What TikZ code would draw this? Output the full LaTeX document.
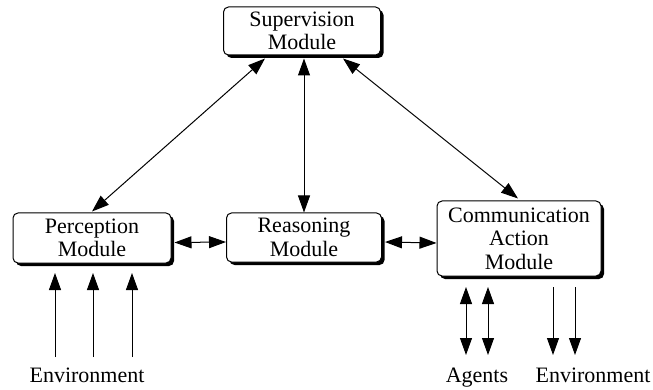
\documentclass[tikz,border=0pt]{standalone}
\usepackage{fontspec}
\setmainfont{Liberation Serif}
\usetikzlibrary{arrows.meta,shadows,calc}
\begin{document}
\begin{tikzpicture}[x=1pt,y=-1pt,
  modbox/.style={draw,line width=1pt,rounded corners=5pt,fill=white,align=center,
    font=\fontsize{22}{23.5}\selectfont,inner sep=0pt,
    general shadow={fill=black,shadow xshift=3pt,shadow yshift=-3pt}},
  lbl/.style={font=\fontsize{22}{23.5}\selectfont,inner sep=0pt,anchor=base},
  conn/.style={line width=1pt,{Triangle[length=17pt,width=12pt]}-{Triangle[length=17pt,width=12pt]}},
  uni/.style={line width=1pt,-{Triangle[length=17pt,width=12pt]}}]
\useasboundingbox (0,0) rectangle (653,390);
\node[modbox,minimum width=157pt,minimum height=48pt] (sup) at (302,31) {Supervision\\Module};
\node[modbox,minimum width=158pt,minimum height=50pt] (perc) at (92,238) {Perception\\Module};
\node[modbox,minimum width=155pt,minimum height=49pt] (reas) at (304,237.5) {Reasoning\\Module};
\node[modbox,minimum width=164pt,minimum height=75pt] (comm) at (519,238.5) {Communication\\Action\\Module};
% connections
\draw[conn] ($(sup.south)+(-37,3)$) -- ($(perc.north)+(0,-1)$);
\draw[conn] ($(sup.south)+(2,3)$) -- (reas.north);
\draw[conn] ($(sup.south)+(41,3)$) -- ($(comm.north)+(-1,-2)$);
\draw[conn] ([yshift=-4.5pt,xshift=3pt]perc.east) -- ([yshift=-4.5pt]reas.west);
\draw[conn] ([yshift=-4.5pt,xshift=3pt]reas.east) -- ([yshift=-4.5pt]comm.west);
% labels
\node[lbl] (envl) at (87,382) {Environment};
\node[lbl] (agl) at (477,382) {Agents};
\node[lbl] (envr) at (593,382) {Environment};
% environment inputs
\coordinate (pa1) at (55,357); \coordinate (pb1) at (55,273);
\coordinate (pa2) at (93,357); \coordinate (pb2) at (93,273);
\coordinate (pa3) at (132,357); \coordinate (pb3) at (132,273);
\draw[uni] (pa1) -- (pb1);
\draw[uni] (pa2) -- (pb2);
\draw[uni] (pa3) -- (pb3);
% agents
\coordinate (ca1) at (466,287); \coordinate (cb1) at (466,355);
\coordinate (ca2) at (488,287); \coordinate (cb2) at (488,355);
\draw[conn] (ca1) -- (cb1);
\draw[conn] (ca2) -- (cb2);
% environment outputs
\coordinate (ea1) at (553,287); \coordinate (eb1) at (553,355);
\coordinate (ea2) at (575,287); \coordinate (eb2) at (575,355);
\draw[uni] (ea1) -- (eb1);
\draw[uni] (ea2) -- (eb2);
\end{tikzpicture}
\end{document}
